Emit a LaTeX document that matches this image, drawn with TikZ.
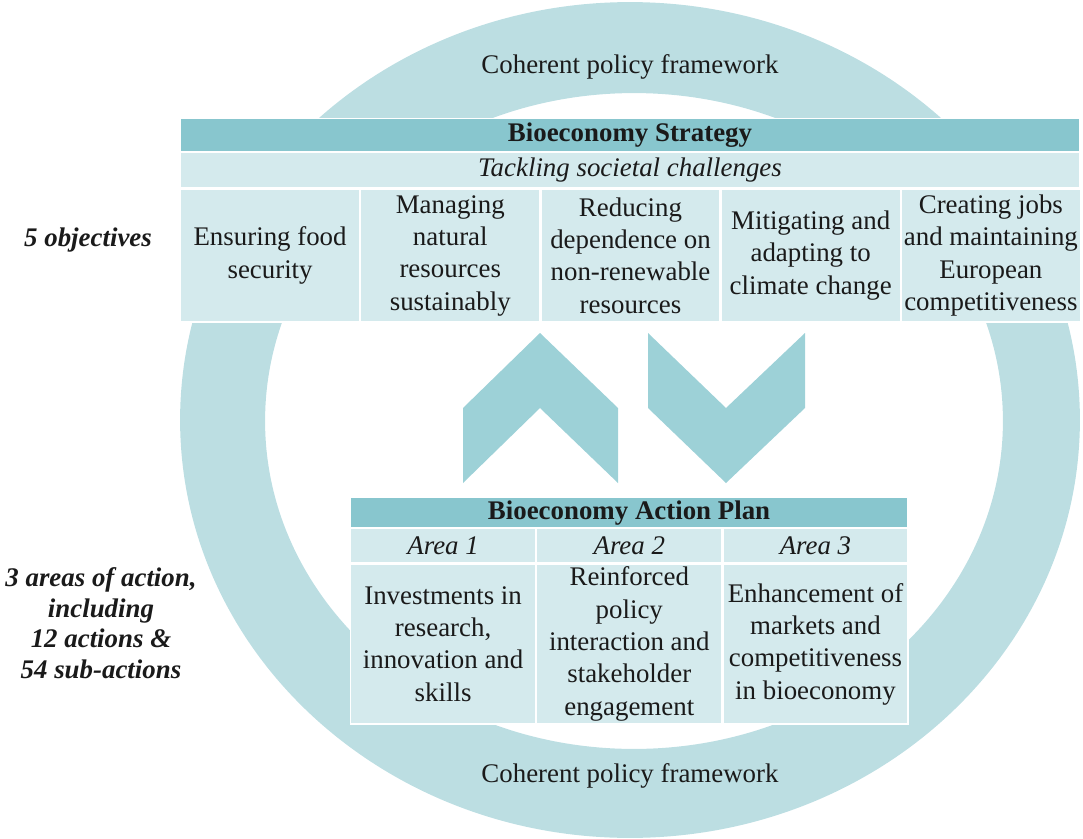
\documentclass[tikz,border=0pt]{standalone}
\usepackage{fontspec}
\setmainfont{Liberation Serif}
\usepackage{xcolor}
\usepackage{tikz}
\usetikzlibrary{positioning}
\definecolor{ringcol}{HTML}{BCDEE2}
\definecolor{hdrcol}{HTML}{88C6CE}
\definecolor{cellcol}{HTML}{D4EAED}
\definecolor{chevcol}{HTML}{9DD1D7}
\definecolor{txtcol}{HTML}{1A1A1A}
\newcommand{\bodysize}{\fontsize{15.3}{18.4}\selectfont}

\begin{document}
\begin{tikzpicture}[
    x=0.02cm, y=-0.02cm,
    node distance=0pt,
    every node/.style={text=txtcol, font=\bodysize},
    hdr/.style={draw=white, line width=0.7pt, fill=hdrcol, inner sep=1pt, font=\bodysize\bfseries},
    subhdr/.style={draw=white, line width=0.7pt, fill=cellcol, inner sep=1pt, font=\bodysize\itshape},
    cell/.style={draw=white, line width=0.7pt, fill=cellcol, inner sep=1pt, align=center},
    objcell/.style={cell, minimum width=3.58cm, minimum height=2.66cm},
    areacell/.style={subhdr, minimum width=3.7cm, minimum height=0.68cm},
    actcell/.style={cell, minimum width=3.7cm, minimum height=3.2cm},
    side/.style={align=center, font=\fontsize{15.3}{17.4}\selectfont\bfseries\itshape},
]
\useasboundingbox (0,0) rectangle (1083,839);
% Ring
\fill[ringcol, even odd rule] (630,420) ellipse [x radius=9cm, y radius=8.36cm]
    (634,421) ellipse [x radius=7.38cm, y radius=6.56cm];
\node (ringtop) at (630,67) {Coherent policy framework};
\node (ringbot) at (630,776) {Coherent policy framework};
% Chevrons
\fill[chevcol] (463,408) -- (540,333) -- (618,408) -- (618,483) -- (540,408) -- (463,483) -- cycle;
\fill[chevcol] (648,333) -- (726,408) -- (805,333) -- (805,408) -- (726,483) -- (648,408) -- cycle;
% Strategy
\node[hdr, minimum width=17.98cm, minimum height=0.66cm, anchor=north west] (strat) at (180,118) {Bioeconomy Strategy};
\node[subhdr, minimum width=17.98cm, minimum height=0.7cm, below=of strat] (tackle) {Tackling societal challenges};
\node[objcell, anchor=north west] (obj1) at (tackle.south west) {Ensuring food\\security};
\node[objcell, right=of obj1] (obj2) {Managing\\natural\\resources\\sustainably};
\node[objcell, right=of obj2] (obj3) {Reducing\\dependence on\\non-renewable\\resources};
\node[objcell, right=of obj3] (obj4) {Mitigating and\\adapting to\\climate change};
\node[objcell, right=of obj4] (obj5) {Creating jobs\\and maintaining\\European\\competitiveness};
% Action plan
\node[hdr, minimum width=11.14cm, minimum height=0.6cm, anchor=north west] (plan) at (350,497) {Bioeconomy Action Plan};
\node[areacell, anchor=north west] (area1) at (plan.south west) {Area 1};
\node[areacell, right=of area1] (area2) {Area 2};
\node[areacell, right=of area2] (area3) {Area 3};
\node[actcell, below=of area1] (act1) {Investments in\\research,\\innovation and\\skills};
\node[actcell, below=of area2] (act2) {Reinforced\\policy\\interaction and\\stakeholder\\engagement};
\node[actcell, below=of area3] (act3) {Enhancement of\\markets and\\competitiveness\\in bioeconomy};
% Side notes
\node[side] (objnote) at (88,240) {5 objectives};
\node[side] (areanote) at (101,623) {3 areas of action,\\including\\12 actions \&\\54 sub-actions};
\end{tikzpicture}
\end{document}
